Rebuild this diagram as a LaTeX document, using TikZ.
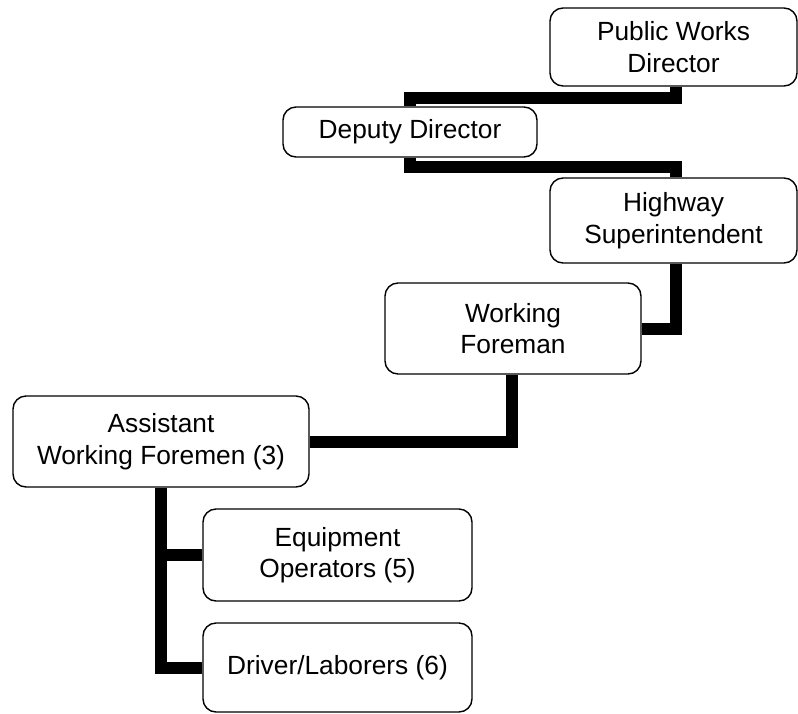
\documentclass[tikz,border=0pt]{standalone}
\usepackage{fontspec}
\setmainfont{Liberation Sans}
\begin{document}
\begin{tikzpicture}[x=1pt,y=-1pt,
  box/.style={draw=black, line width=1.4pt, rounded corners=13pt, align=center,
    inner sep=0pt, font=\fontsize{26.3}{31.5}\selectfont},
  conn/.style={line width=12pt, line cap=butt, line join=miter, draw=black}]
\useasboundingbox (0,0) rectangle (798,713);
\node[box, minimum width=247pt, minimum height=78pt] (pwd) at (673.5,47) {Public Works\\Director};
\node[box, minimum width=254pt, minimum height=50pt] (dep) at (410,132) {Deputy Director};
\node[box, minimum width=247pt, minimum height=85pt] (hwy) at (673.5,220.5) {Highway\\Superintendent};
\node[box, minimum width=256pt, minimum height=91pt] (wf) at (513,328.5) {Working\\Foreman};
\node[box, minimum width=296pt, minimum height=91pt] (awf) at (161,441.5) {Assistant\\Working Foremen (3)};
\node[box, minimum width=269pt, minimum height=92pt] (eq) at (337.5,555) {Equipment\\Operators (5)};
\node[box, minimum width=269pt, minimum height=89pt] (dl) at (337.5,667.5) {Driver/Laborers (6)};
\coordinate (c1) at (676,98);
\coordinate (c2) at (410,167);
\coordinate (c3) at (676,329);
\coordinate (c4) at (512,442);
\draw[conn] (pwd.south -| c1) -- (c1) -| (dep.north);
\draw[conn] (dep.south) |- (c2 -| c1) -- (hwy.north -| c1);
\draw[conn] (hwy.south -| c3) -- (c3) -- (c3 -| wf.east);
\draw[conn] (wf.south -| c4) -- (c4) -- (c4 -| awf.east);
\draw[conn] (awf.south) |- (dl.west);
\draw[conn] (awf.south |- eq.west) -- (eq.west);
\end{tikzpicture}
\end{document}
